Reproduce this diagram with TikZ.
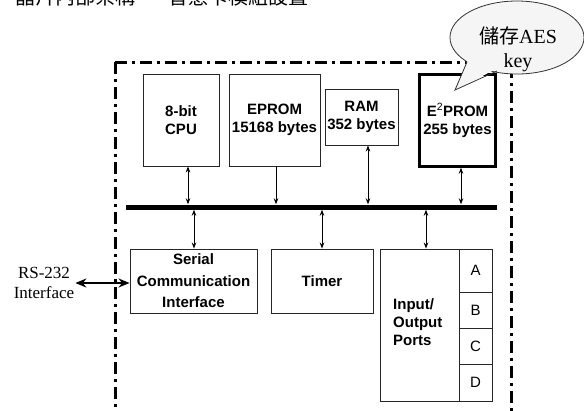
\documentclass[tikz,border=0pt]{standalone}
\usepackage{fontspec}
\setmainfont{Liberation Serif}
\setsansfont{Liberation Sans}
\newfontfamily\cjk{Noto Sans CJK TC}
\usetikzlibrary{arrows.meta,calc}

\begin{document}
\begin{tikzpicture}[x=1pt,y=-1pt,
  blk/.style={draw=black!85, line width=0.9pt, inner sep=0pt, align=center,
    font=\sffamily\bfseries\fontsize{15}{18}\selectfont},
  port/.style={draw=black!85, line width=0.9pt, inner sep=0pt, minimum width=33pt,
    font=\sffamily\fontsize{15}{18}\selectfont},
  dbl/.style={{Stealth[length=6pt,width=4.5pt]}-{Stealth[length=6pt,width=4.5pt]}, line width=0.8pt},
  one/.style={-{Stealth[length=6pt,width=4.5pt]}, line width=0.8pt},
  ext/.style={{Stealth[length=11pt,width=9pt]}-{Stealth[length=11pt,width=9pt]}, line width=2.8pt},
  frame/.style={line width=3pt, dash pattern=on 12pt off 5pt on 3pt off 5pt},
  note/.style={draw=black!80, line width=0.8pt},
]
\useasboundingbox (0,0) rectangle (584,410);

% heading line, cut by the top edge
\begin{scope}
  \clip (0,0) rectangle (584,9);
  \node[anchor=base west, inner sep=0pt, font=\cjk\fontsize{20}{24}\selectfont] (ttl) at (15,4)
    {晶片內部架構——智慧卡模組設置};
\end{scope}

% chip boundary
\draw[frame] (115,62) -- (115,412);
\draw[frame] (115,62) -- (511,62) -- (511,412);

% upper row
\node[blk, minimum width=76pt, minimum height=92pt] (cpu) at (181,120) {8-bit\\CPU};
\node[blk, minimum width=91pt, minimum height=92pt] (eprom) at (274.5,120) {EPROM\\15168 bytes};
\node[blk, minimum width=73pt, minimum height=56pt] (ram) at (361.5,117) {RAM\\352 bytes};
\node[blk, draw=black, line width=2.4pt, minimum width=76pt, minimum height=92pt] (eeprom) at (457.5,120.5)
  {E\textsuperscript{\mdseries 2}PROM\\255 bytes};

% bus
\node[fill=black, inner sep=0pt, minimum width=371pt, minimum height=5pt] (bus) at (311.5,207) {};

% lower row
\node[blk, minimum width=127pt, minimum height=64pt, font=\sffamily\bfseries\fontsize{15}{21.5}\selectfont]
  (ser) at (193.5,281) {Serial\\Communication\\Interface};
\node[blk, minimum width=102pt, minimum height=64pt] (tmr) at (322,281) {Timer};
\node[blk, minimum width=112pt, minimum height=152pt] (io) at (436,325) {};
\node[anchor=west, align=left, inner sep=0pt, font=\sffamily\bfseries\fontsize{15}{18}\selectfont]
  (iolbl) at (393,322) {Input/\\Output\\Ports};
\node[port, minimum height=43pt] (pA) at (475.5,270.5) {A};
\node[port, minimum height=36pt] (pB) at (475.5,310) {B};
\node[port, minimum height=36pt] (pC) at (475.5,346) {C};
\node[port, minimum height=37pt] (pD) at (475.5,382.5) {D};

% links to the bus
\coordinate (c1) at ([xshift=7pt]cpu.south);
\coordinate (c2) at ([xshift=1.5pt]eprom.south);
\coordinate (c3) at ([xshift=6.5pt]ram.south);
\coordinate (c4) at ([xshift=3.5pt]eeprom.south);
\draw[dbl] (c1) -- (c1 |- bus.north);
\draw[one] (c2) -- (c2 |- bus.north);
\draw[dbl] (c3) -- (c3 |- bus.north);
\draw[dbl] (c4) -- (c4 |- bus.north);

\coordinate (d1) at ([xshift=0.5pt]ser.north);
\coordinate (d2) at (tmr.north);
\coordinate (d3) at ([xshift=-10pt]io.north);
\draw[dbl] (d1 |- bus.south) -- (d1);
\draw[dbl] (d2 |- bus.south) -- (d2);
\draw[dbl] (d3 |- bus.south) -- (d3);

% external serial link
\node[align=center, inner sep=1pt, font=\fontsize{17}{20}\selectfont] (rs) at (44,283) {RS-232\\Interface};
\draw[ext] (rs.east) -- (rs.east -| ser.west);

% note bubble: ellipse, then a tail whose fill hides the outline at its base
\filldraw[note, fill=gray!8] (517,37.5) ellipse [x radius=67, y radius=36.5];
\coordinate (ta) at (467,62);
\coordinate (tb) at (497,71);
\coordinate (tip) at (455,90);
\fill[gray!8] ($(ta)+(1,-2)$) -- (tip) -- ($(tb)+(0,-2.5)$) -- cycle;
\draw[note, line join=miter] (ta) -- (tip) -- (tb);
\node[anchor=base, inner sep=0pt, font=\fontsize{20}{24}\selectfont] (bt1) at (518,43) {{\cjk 儲存}AES};
\node[anchor=base, inner sep=0pt, font=\fontsize{20}{24}\selectfont] (bt2) at (518,67) {key};
\end{tikzpicture}
\end{document}
